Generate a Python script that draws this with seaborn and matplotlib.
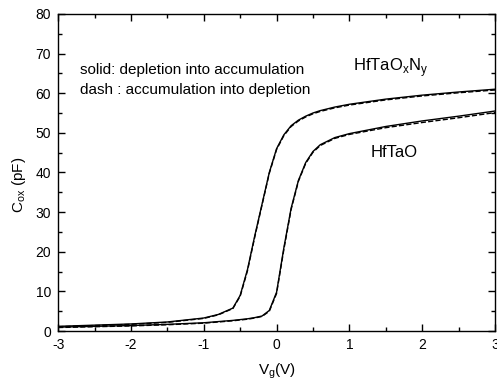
import matplotlib
matplotlib.use("Agg")
import matplotlib.pyplot as plt
import seaborn as sns
import pandas as pd
from matplotlib.ticker import MultipleLocator

# gate voltage (V)
vg = [-3.0, -2.5, -2.0, -1.5, -1.0, -0.8, -0.6, -0.5, -0.4, -0.3, -0.2, -0.1, 0.0,
      0.1, 0.2, 0.3, 0.4, 0.5, 0.6, 0.8, 1.0, 1.5, 2.0, 2.5, 3.0]

# HfTaOxNy, solid = depletion -> accumulation, dash = accumulation -> depletion
c_nitr_solid = [1.2, 1.5, 1.8, 2.3, 3.3, 4.2, 5.8, 9.0, 15.5, 24.0, 32.0, 40.0, 46.0,
                49.5, 51.8, 53.2, 54.2, 55.0, 55.6, 56.5, 57.2, 58.5, 59.5, 60.3, 61.0]
c_nitr_dash = [1.1, 1.4, 1.7, 2.2, 3.2, 4.1, 5.7, 8.8, 15.2, 23.7, 31.8, 39.8, 45.8,
               49.3, 51.6, 53.0, 54.0, 54.8, 55.4, 56.3, 57.0, 58.3, 59.3, 60.1, 60.8]

# HfTaO
c_oxide_solid = [1.0, 1.2, 1.4, 1.7, 2.1, 2.4, 2.7, 2.9, 3.1, 3.4, 3.8, 5.2, 9.8,
                 21.0, 31.0, 38.0, 42.5, 45.3, 47.0, 48.8, 49.8, 51.6, 53.0, 54.2, 55.5]
c_oxide_dash = [0.9, 1.1, 1.3, 1.6, 2.0, 2.3, 2.6, 2.8, 3.0, 3.3, 3.7, 5.0, 9.5,
                20.6, 30.7, 37.8, 42.3, 45.1, 46.8, 48.6, 49.6, 51.3, 52.6, 53.8, 55.1]

plt.rcParams['font.family'] = ['Liberation Sans', 'DejaVu Sans']
plt.rcParams['mathtext.fontset'] = 'custom'
plt.rcParams['mathtext.rm'] = 'Liberation Sans'
plt.rcParams['axes.unicode_minus'] = False
fig, ax = plt.subplots(figsize=(4.97, 3.85), dpi=100)

for c, ls in [(c_nitr_solid, '-'), (c_nitr_dash, '--'),
              (c_oxide_solid, '-'), (c_oxide_dash, '--')]:
    df = pd.DataFrame({"vg": vg, "c": c})
    sns.lineplot(data=df, x="vg", y="c", ax=ax, color="black",
                 linestyle=ls, linewidth=1.0)

ax.set_xlim(-3, 3)
ax.set_ylim(0, 80)
ax.xaxis.set_major_locator(MultipleLocator(1))
ax.xaxis.set_minor_locator(MultipleLocator(0.5))
ax.yaxis.set_major_locator(MultipleLocator(10))
ax.yaxis.set_minor_locator(MultipleLocator(5))
ax.tick_params(which='both', direction='in', top=True, right=True, labelsize=10,
               width=1.0)
ax.tick_params(which='major', length=5, pad=5)
ax.tick_params(which='minor', length=3)
for s in ax.spines.values():
    s.set_linewidth(1.0)

ax.set_xlabel(r"V$_{\rm g}$(V)", fontsize=11)
ax.set_ylabel(r"C$_{\rm ox}$ (pF)", fontsize=11)
ax.yaxis.set_label_coords(-0.07, 0.46)
ax.xaxis.set_label_coords(0.5, -0.095)

ax.text(-2.70, 65.9, "solid: depletion into accumulation", fontsize=11, va='center')
ax.text(-2.70, 60.9, "dash : accumulation into depletion", fontsize=11, va='center')
ax.text(1.05, 66.5, r"HfTaO$_{\rm x}$N$_{\rm y}$", fontsize=12, va='center')
ax.text(1.29, 45, "HfTaO", fontsize=12, va='center')

plt.subplots_adjust(left=0.117, right=0.996, top=0.964, bottom=0.14)
plt.savefig("out.png", dpi=100)
